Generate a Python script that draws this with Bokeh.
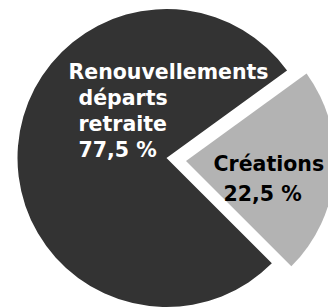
import math
from bokeh.plotting import figure
from bokeh.models import Range1d
from bokeh.core.properties import value
from bokeh.embed import file_html
from bokeh.resources import INLINE

# Data
categories = ["Renouvellements départs retraite", "Créations"]
shares = [77.5, 22.5]
label_lines = [["Renouvellements", "départs", "retraite", "77,5 %"], ["Créations", "22,5 %"]]
colors = ["#333333", "#b3b3b3"]
text_colors = ["white", "black"]

W, H = 328, 308
p = figure(width=W, height=H, output_backend="svg", toolbar_location=None,
           x_range=Range1d(0, W), y_range=Range1d(0, H),
           min_border=0, outline_line_color=None)
p.axis.visible = False
p.grid.visible = False
p.background_fill_color = "white"
p.border_fill_color = "white"

cx, cy, r = 166, H - 157.5, 149
start = math.radians(-45)
total = sum(shares)
ang_c0 = start
ang_c1 = start + shares[1] / total * 2 * math.pi
ang_r0 = ang_c1
ang_r1 = start + 2 * math.pi

# dark slice
p.wedge(x=[cx], y=[cy], radius=r, start_angle=ang_r0, end_angle=ang_r1,
        direction="anticlock", fill_color=colors[0], line_color=None)
# exploded gray slice
dx, dy = 19.5, -3
p.wedge(x=[cx + dx], y=[cy + dy], radius=r, start_angle=ang_c0, end_angle=ang_c1,
        direction="anticlock", fill_color=colors[1], line_color=None)

font = value("DejaVu Sans")
fs = "20.5px"
xs0 = [68, 78, 78, 78]
base0 = [71, 97, 123, 149]
p.text(x=xs0, y=[H - b for b in base0], text=label_lines[0], text_font=font,
       text_font_size=fs, text_font_style="bold", text_color=text_colors[0],
       text_baseline="alphabetic", text_align="left")
xs1 = [213, 223]
base1 = [163, 193]
p.text(x=xs1, y=[H - b for b in base1], text=label_lines[1], text_font=font,
       text_font_size=fs, text_font_style="bold", text_color=text_colors[1],
       text_baseline="alphabetic", text_align="left")

open("out.html", "w").write(file_html(p, INLINE))
